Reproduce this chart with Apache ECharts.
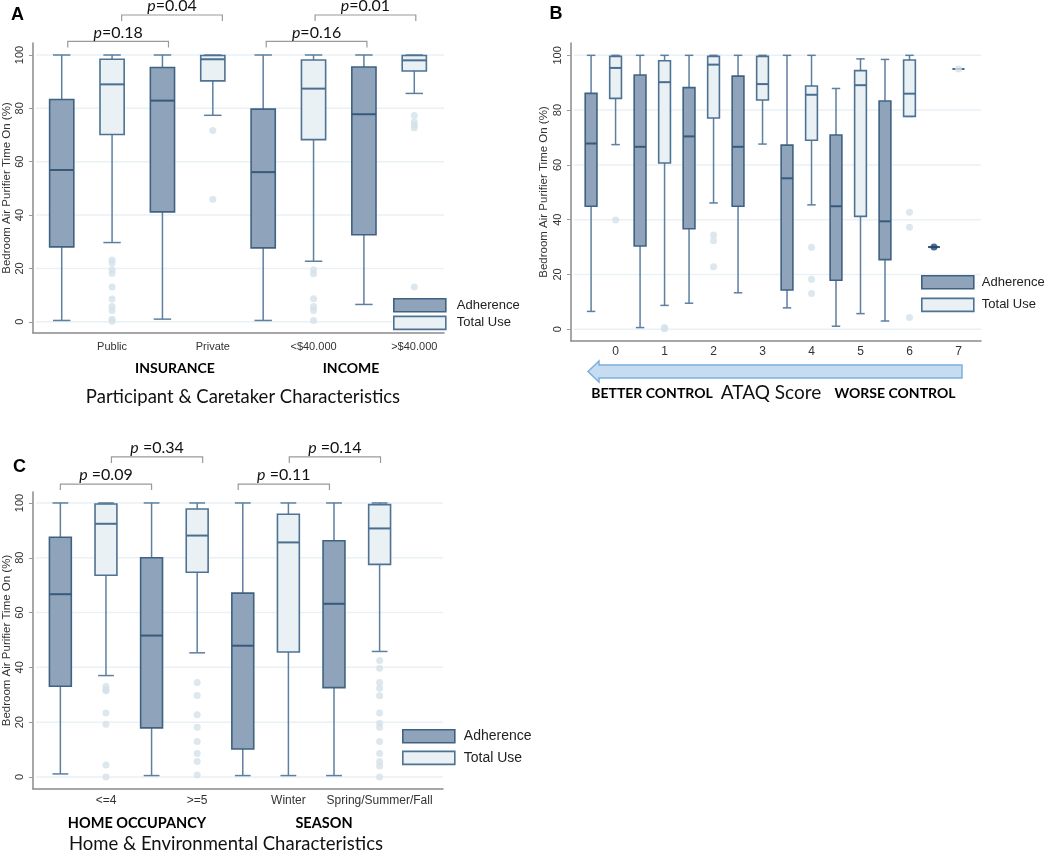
<!DOCTYPE html>
<html><head><meta charset="utf-8">
<script src="https://cdn.jsdelivr.net/npm/echarts@6/dist/echarts.min.js"></script>
<style>html,body{margin:0;padding:0;background:#fff}#c{width:1050px;height:851px}</style>
</head><body><div id="c"></div>
<script>
// ---------------- DATA ----------------
// box values: [lower whisker, Q1, median, Q3, upper whisker]
const yTicks = [0, 20, 40, 60, 80, 100];

const aCategories = ['Public', 'Private', '<$40.000', '>$40.000'];
const aAdherence = [
  [0.5, 28.1, 56.9, 83.3, 100],
  [1.0, 41.2, 82.9, 95.3, 100],
  [0.5, 27.7, 56.1, 79.7, 100],
  [6.5, 32.6, 77.8, 95.5, 100]
];
const aTotalUse = [
  [29.7, 70.2, 89.0, 98.4, 100],
  [77.4, 90.3, 98.4, 99.8, 100],
  [22.7, 68.3, 87.4, 98.1, 100],
  [85.6, 94.0, 98.0, 99.8, 100]
];
const aAdherenceOutliers = [[], [], [], []];
const aTotalUseOutliers = [
  [23.2, 22.0, 19.5, 18.2, 13.0, 8.5, 5.7, 4.2, 1.0, 0.2],
  [71.7, 45.9],
  [19.5, 18.0, 8.6, 5.7, 4.2, 0.5],
  [77.3, 74.9, 73.8, 72.7, 13.0]
];
const aPValues = ['0.18', '0.04', '0.16', '0.01'];
const aGroups = ['INSURANCE', 'INCOME'];

const bCategories = ['0', '1', '2', '3', '4', '5', '6', '7'];
const bAdherence = [
  [6.5, 44.9, 67.8, 86.1, 100],
  [0.6, 30.4, 66.6, 92.8, 100],
  [9.5, 36.7, 70.4, 88.2, 100],
  [13.3, 44.9, 66.6, 92.4, 100],
  [7.8, 14.3, 55.1, 67.2, 100],
  [1.1, 17.9, 44.9, 70.9, 87.9],
  [3.0, 25.4, 39.4, 83.3, 98.5],
  [30, 30, 30, 30, 30]
];
const bTotalUse = [
  [67.4, 84.3, 95.4, 99.6, 100],
  [8.7, 60.7, 90.2, 98.0, 100],
  [46.1, 77.1, 96.6, 99.6, 100],
  [67.6, 83.7, 89.5, 99.6, 100],
  [45.4, 69.0, 85.6, 88.8, 100],
  [5.7, 41.2, 89.1, 94.4, 98.7],
  [77.7, 77.7, 86.0, 98.3, 100],
  [95, 95, 95, 95, 95]
];
const bAdherenceOutliers = [[], [], [], [], [], [], [], [30]];
const bTotalUseOutliers = [[39.9], [0.2, 0.6], [34.4, 32.3, 22.8], [], [29.9, 18.2, 13.0], [], [42.7, 37.2, 4.3], [95]];

const cCategories = ['<=4', '>=5', 'Winter', 'Spring/Summer/Fall'];
const cAdherence = [
  [1.1, 33.1, 66.7, 87.5, 100],
  [0.5, 17.9, 51.6, 80.0, 100],
  [0.5, 10.2, 47.9, 67.1, 100],
  [0.5, 32.6, 63.2, 86.2, 100]
];
const cTotalUse = [
  [37.0, 73.6, 92.4, 99.6, 100],
  [45.3, 74.7, 88.1, 97.8, 100],
  [0.5, 45.6, 85.6, 95.9, 100],
  [45.8, 77.6, 90.7, 99.4, 100]
];
const cAdherenceOutliers = [[], [], [], []];
const cTotalUseOutliers = [
  [33.0, 31.8, 31.5, 23.3, 19.2, 4.4, 0],
  [34.5, 29.7, 22.7, 18.1, 12.9, 8.6, 5.6, 0.7],
  [],
  [42.5, 39.7, 34.5, 32.4, 29.6, 23.3, 19.6, 18.1, 12.9, 8.6, 5.6, 4.0, 0]
];
const cPValues = ['0.09', '0.34', '0.11', '0.14'];
const cGroups = ['HOME OCCUPANCY', 'SEASON'];

// bracket spans (box slot indices) and their level
const bracketSpans = [[0, 2], [1, 3], [4, 6], [5, 7]];
const bracketLevels = [0, 1, 0, 1];

// ---------------- STYLE ----------------
const ADH = {fill: '#8fa4ba', stroke: '#3f6283', median: '#37597b', whisker: '#5d7fa0', outlier: '#1e4570'};
const TOT = {fill: '#eaf1f4', stroke: '#4e7293', median: '#4a6e90', whisker: '#5d7fa0', outlier: '#d5e1ea'};
const ARIAL = 'Liberation Sans, Arial, sans-serif';
const CAL = 'Lato, Carlito, Calibri, sans-serif';

const panels = [
  {grid: {left: 32, top: 43, width: 412, height: 290}, xMin: -0.57, xMax: 7.59, yMin: -4.2, yMax: 104.5,
   cats: aCategories, adh: aAdherence, tot: aTotalUse, adhOut: aAdherenceOutliers, totOut: aTotalUseOutliers,
   labelFont: 11, labelMargin: 8, nameGap: 20, pvals: aPValues, pLevels: [105.1, 115.0], pShift: [0.12, 0.19, 0.06, 0.03], pSep: '='},
  {grid: {left: 571, top: 43, width: 410, height: 298}, xMin: -0.82, xMax: 15.92, yMin: -4.3, yMax: 104.5,
   cats: bCategories, adh: bAdherence, tot: bTotalUse, adhOut: bAdherenceOutliers, totOut: bTotalUseOutliers,
   labelFont: 12, labelMargin: 5, nameGap: 21, pvals: null},
  {grid: {left: 31, top: 492, width: 412, height: 297}, xMin: -0.6, xMax: 8.39, yMin: -4.4, yMax: 104,
   cats: cCategories, adh: cAdherence, tot: cTotalUse, adhOut: cAdherenceOutliers, totOut: cTotalUseOutliers,
   labelFont: 12, labelMargin: 6, nameGap: 20, pvals: cPValues, pLevels: [106.9, 116.8], pShift: [0.0, 0.12, -0.1, 0.02], pSep: ' ='}
];

function boxRenderer(st) {
  return function (params, api) {
    const x = api.value(0);
    const lo = api.value(1), q1 = api.value(2), med = api.value(3), q3 = api.value(4), hi = api.value(5);
    const w = api.size([0.48, 0])[0];
    const cap = w * 0.72;
    const pLo = api.coord([x, lo]), pQ1 = api.coord([x, q1]), pMed = api.coord([x, med]);
    const pQ3 = api.coord([x, q3]), pHi = api.coord([x, hi]);
    const cx = pLo[0];
    const ws = {stroke: st.whisker, lineWidth: 1.5, fill: null};
    const ch = [];
    ch.push({type: 'line', shape: {x1: cx, y1: pHi[1], x2: cx, y2: pQ3[1]}, style: ws});
    ch.push({type: 'line', shape: {x1: cx - cap / 2, y1: pHi[1], x2: cx + cap / 2, y2: pHi[1]}, style: ws});
    ch.push({type: 'line', shape: {x1: cx, y1: pQ1[1], x2: cx, y2: pLo[1]}, style: ws});
    ch.push({type: 'line', shape: {x1: cx - cap / 2, y1: pLo[1], x2: cx + cap / 2, y2: pLo[1]}, style: ws});
    ch.push({type: 'rect', shape: {x: cx - w / 2, y: pQ3[1], width: w, height: pQ1[1] - pQ3[1]},
             style: {fill: st.fill, stroke: st.stroke, lineWidth: 1.6}});
    ch.push({type: 'line', shape: {x1: cx - w / 2, y1: pMed[1], x2: cx + w / 2, y2: pMed[1]},
             style: {stroke: st.median, lineWidth: 2}});
    return {type: 'group', children: ch};
  };
}

const option = {
  animation: false,
  backgroundColor: '#fff',
  grid: [], xAxis: [], yAxis: [], series: [],
  legend: [],
  graphic: []
};

panels.forEach((p, i) => {
  option.grid.push(Object.assign({containLabel: false}, p.grid));
  const labelVals = p.cats.map((c, k) => 2 * k + 1);
  option.xAxis.push({
    type: 'value', gridIndex: i, min: p.xMin, max: p.xMax,
    axisLine: {show: true, onZero: false, lineStyle: {color: '#8a8a8a', width: 1.5}},
    axisTick: {show: false},
    splitLine: {show: false},
    axisLabel: {customValues: labelVals, fontSize: p.labelFont, fontFamily: ARIAL, color: '#333', margin: p.labelMargin,
      formatter: v => p.cats[Math.round((v - 1) / 2)]}
  });
  option.yAxis.push({
    type: 'value', gridIndex: i, min: p.yMin, max: p.yMax,
    axisLine: {show: true, onZero: false, lineStyle: {color: '#8a8a8a', width: 1.5}},
    axisTick: {show: true, customValues: yTicks, length: 4, lineStyle: {color: '#9a9a9a'}},
    axisLabel: {customValues: yTicks, rotate: 90, fontSize: 11, fontFamily: ARIAL, color: '#333', margin: 8},
    splitLine: {show: false},
    name: 'Bedroom Air Purifier Time On (%)', nameLocation: 'middle', nameGap: p.nameGap,
    nameTextStyle: {fontSize: 11.5, fontFamily: ARIAL, color: '#333'}
  });
  // grid lines
  option.series.push({
    type: 'custom', xAxisIndex: i, yAxisIndex: i, z: 1, silent: true,
    data: yTicks.map(v => [v]),
    renderItem: (params, api) => {
      const cs = params.coordSys;
      const y = api.coord([0, api.value(0)])[1];
      return {type: 'line', shape: {x1: cs.x + 3, y1: y, x2: cs.x + cs.width, y2: y},
              style: {stroke: '#e9f1f5', lineWidth: 1.5}};
    },
    encode: {y: 0}
  });
  // boxes
  option.series.push({
    type: 'custom', name: 'Adherence', xAxisIndex: i, yAxisIndex: i, z: 3, silent: true,
    data: p.adh.map((b, k) => [2 * k].concat(b)),
    encode: {x: 0, y: [1, 2, 3, 4, 5]},
    renderItem: boxRenderer(ADH)
  });
  option.series.push({
    type: 'custom', name: 'Total Use', xAxisIndex: i, yAxisIndex: i, z: 3, silent: true,
    data: p.tot.map((b, k) => [2 * k + 1].concat(b)),
    encode: {x: 0, y: [1, 2, 3, 4, 5]},
    renderItem: boxRenderer(TOT)
  });
  // outliers
  const adhPts = [], totPts = [];
  p.adhOut.forEach((arr, k) => arr.forEach(v => adhPts.push([2 * k, v])));
  p.totOut.forEach((arr, k) => arr.forEach(v => totPts.push([2 * k + 1, v])));
  option.series.push({type: 'scatter', name: 'adh-out', xAxisIndex: i, yAxisIndex: i, z: 4, silent: true,
    symbolSize: 7, itemStyle: {color: ADH.outlier}, data: adhPts});
  option.series.push({type: 'scatter', name: 'tot-out', xAxisIndex: i, yAxisIndex: i, z: 4, silent: true,
    symbolSize: 7, itemStyle: {color: TOT.outlier}, data: totPts});
  // p-value brackets
  if (p.pvals) {
    option.series.push({
      type: 'custom', xAxisIndex: i, yAxisIndex: i, z: 5, silent: true, clip: false,
      data: bracketSpans.map((s, k) => [s[0] + p.pShift[k], s[1] + p.pShift[k], p.pLevels[bracketLevels[k]]]),
      encode: {x: [0, 1], y: 2},
      renderItem: (params, api) => {
        const a = api.coord([api.value(0), api.value(2)]);
        const b = api.coord([api.value(1), api.value(2)]);
        const drop = 6;
        return {type: 'group', children: [
          {type: 'polyline', shape: {points: [[a[0], a[1] + drop], [a[0], a[1]], [b[0], b[1]], [b[0], b[1] + drop]]},
           style: {stroke: '#9a9a9a', lineWidth: 1.2, fill: null}},
          {type: 'text', style: {x: (a[0] + b[0]) / 2, y: a[1] - 1, align: 'center', verticalAlign: 'bottom',
            text: '{i|p}{n|' + p.pSep + p.pvals[params.dataIndex] + '}',
            rich: {i: {fontStyle: 'italic', fontSize: 16, fontFamily: CAL, fill: '#111'},
                   n: {fontSize: 16, fontFamily: CAL, fill: '#111'}}}}
        ]};
      }
    });
  }
});

const legendPos = [
  {left: 393, top: 298, itemGap: 3, fontSize: 13, pad: 6},
  {left: 921, top: 275, itemGap: 8, fontSize: 13, pad: 3},
  {left: 402, top: 729, itemGap: 7, fontSize: 14, pad: 4}
];
legendPos.forEach(l => {
  option.legend.push({
    left: l.left, top: l.top, orient: 'vertical', itemWidth: 52, itemHeight: 13, itemGap: l.itemGap,
    icon: 'rect', selectedMode: false, padding: 0,
    textStyle: {fontSize: l.fontSize, fontFamily: ARIAL, color: '#222', padding: [0, 0, 0, l.pad]},
    data: [
      {name: 'Adherence', itemStyle: {color: ADH.fill, borderColor: ADH.stroke, borderWidth: 1.6}},
      {name: 'Total Use', itemStyle: {color: TOT.fill, borderColor: TOT.stroke, borderWidth: 1.6}}
    ]
  });
});

function txt(x, y, s, size, weight, font, color) {
  return {type: 'text', x: x, y: y, silent: true,
    style: {text: s, fontSize: size, fontWeight: weight || 'normal', fontFamily: font || CAL, fill: color || '#111',
            align: 'center', verticalAlign: 'middle'}};
}
option.graphic = [
  txt(17.5, 15, 'A', 18, 'bold', ARIAL, '#000'),
  txt(556, 14, 'B', 18, 'bold', ARIAL, '#000'),
  txt(19.5, 467, 'C', 18, 'bold', ARIAL, '#000'),
  txt(175, 368, aGroups[0], 14, 'bold', CAL, '#000'),
  txt(351, 368, aGroups[1], 14, 'bold', CAL, '#000'),
  txt(243, 397, 'Participant & Caretaker Characteristics', 18.5, 'normal', CAL, '#111'),
  {type: 'polygon', silent: true,
   shape: {points: [[588, 371.5], [599, 361], [599, 365], [962, 365], [962, 378], [599, 378], [599, 382]]},
   style: {fill: '#c6dcf0', stroke: '#7eb0de', lineWidth: 1.5}},
  txt(652, 393, 'BETTER CONTROL', 14, 'bold', CAL, '#000'),
  txt(771, 393, 'ATAQ Score', 19, 'normal', CAL, '#111'),
  txt(895, 393, 'WORSE CONTROL', 14, 'bold', CAL, '#000'),
  txt(137, 823, cGroups[0], 14.5, 'bold', CAL, '#000'),
  txt(324, 823, cGroups[1], 14.5, 'bold', CAL, '#000'),
  txt(226, 844, 'Home & Environmental Characteristics', 18.5, 'normal', CAL, '#111')
];

const chart = echarts.init(document.getElementById('c'), null, {renderer: 'canvas'});
chart.setOption(option);
</script>
</body></html>
